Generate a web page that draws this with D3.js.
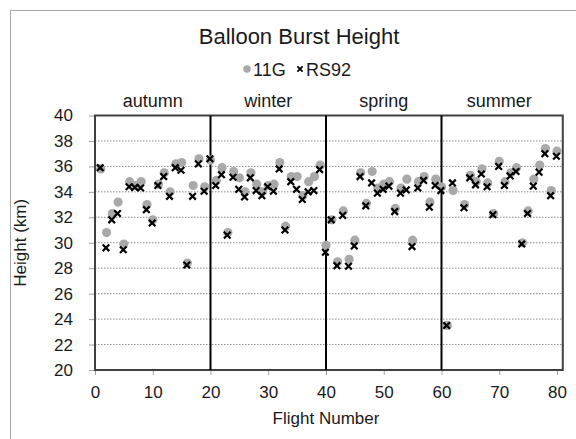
<!DOCTYPE html>
<html>
<head>
<meta charset="utf-8">
<script src="https://cdn.jsdelivr.net/npm/d3@7"></script>
<style>
  html, body { margin: 0; padding: 0; background: #fff; }
  svg { display: block; font-family: "Liberation Sans", Arial, sans-serif; }
</style>
</head>
<body>
<div id="chart"></div>
<script>
// Balloon burst heights per flight, two radiosonde types.
const flights = d3.range(1, 81);
const g11 = [35.8, 30.8, 32.3, 33.2, 29.9, 34.8, 34.5, 34.8, 33.0, 31.8, 34.6, 35.5, 34.0, 36.2, 36.3, 28.4, 34.5, 36.6, 34.4, 36.5,
  34.9, 35.9, 30.8, 35.6, 35.1, 34.0, 35.5, 34.6, 34.0, 34.5, 34.6, 36.3, 31.3, 35.2, 35.2, 33.7, 34.8, 35.2, 36.1, 29.8,
  31.8, 28.5, 32.5, 28.7, 30.2, 35.5, 33.1, 35.6, 34.3, 34.6, 34.8, 32.7, 34.3, 35.0, 30.2, 34.8, 35.2, 33.2, 35.0, 34.4,
  23.5, 34.1, null, 33.0, 35.3, 34.8, 35.8, 34.7, 32.3, 36.4, 34.8, 35.5, 35.9, 30.0, 32.5, 35.0, 36.1, 37.4, 34.1, 37.2];
const rs92 = [35.9, 29.6, 31.8, 32.3, 29.45, 34.4, 34.35, 34.3, 32.6, 31.55, 34.5, 35.2, 33.65, 35.9, 35.7, 28.25, 33.65, 36.2, 34.05, 36.6,
  34.5, 35.35, 30.6, 35.15, 34.2, 33.6, 35.1, 34.1, 33.7, 34.4, 34.05, 35.8, 31.0, 34.8, 34.2, 33.4, 34.0, 34.1, 35.75, 29.25,
  31.8, 28.2, 32.15, 28.15, 29.75, 35.2, 32.9, 34.7, 33.9, 34.2, 34.45, 32.45, 33.9, 34.15, 29.7, 34.3, 34.9, 32.8, 34.5, 34.1,
  23.5, 34.7, null, 32.75, 35.1, 34.55, 35.4, 34.4, 32.2, 36.0, 34.5, 35.25, 35.6, 29.9, 32.3, 34.45, 35.55, 37.0, 33.7, 36.8];

const seasons = ["autumn", "winter", "spring", "summer"];
const seasonBreaks = [0, 20, 40, 60, 80];
const xTicks = [0, 10, 20, 30, 40, 50, 60, 70, 80];
const yTicks = d3.range(20, 41, 2);

const w = 576, h = 439;
const margin = { top: 115.5, right: 13.5, bottom: 69, left: 95 };
const textColor = "#1a1a1a";

const svg = d3.select("#chart").append("svg")
  .attr("width", w)
  .attr("height", h);

// outer chart border (only left/top visible in the frame)
svg.append("rect")
  .attr("x", 10.5).attr("y", 10.5)
  .attr("width", w + 20).attr("height", h + 20)
  .attr("fill", "none")
  .attr("stroke", "#a6a6a6");

const x = d3.scaleLinear()
  .domain([0, 81])
  .range([margin.left, margin.left + 5.775 * 81]);
const y = d3.scaleLinear()
  .domain([20, 40])
  .range([h - margin.bottom, margin.top]);

const x0 = x(0), x1 = x(81), yb = y(20), yt = y(40);

// dotted grid
svg.append("g")
  .selectAll("line")
  .data(yTicks.filter((t) => t > 20 && t < 40))
  .join("line")
  .attr("x1", x0).attr("x2", x1)
  .attr("y1", (d) => y(d)).attr("y2", (d) => y(d))
  .attr("stroke", "#8c8c8c")
  .attr("stroke-width", 1)
  .attr("stroke-dasharray", "1.5,1.5");

// axes: tick marks + labels
const yAxis = svg.append("g")
  .attr("transform", `translate(${x0},0)`)
  .call(d3.axisLeft(y).tickValues(yTicks).tickSize(6).tickPadding(16).tickSizeOuter(0));
const xAxis = svg.append("g")
  .attr("transform", `translate(0,${yb})`)
  .call(d3.axisBottom(x).tickValues(xTicks).tickSize(5).tickPadding(11).tickSizeOuter(0));

for (const ax of [yAxis, xAxis]) {
  ax.select(".domain").remove();
  ax.selectAll(".tick line").attr("stroke", "#a0a0a0");
  ax.selectAll(".tick text")
    .style("font-size", "17px")
    .attr("fill", textColor);
}

// plot frame
svg.append("rect")
  .attr("x", x0).attr("y", yt)
  .attr("width", x1 - x0).attr("height", yb - yt)
  .attr("fill", "none")
  .attr("stroke", "#404040")
  .attr("stroke-width", 2);

// season dividers
svg.append("g")
  .selectAll("line")
  .data(seasonBreaks.slice(1, -1))
  .join("line")
  .attr("x1", (d) => x(d)).attr("x2", (d) => x(d))
  .attr("y1", yt).attr("y2", yb)
  .attr("stroke", "#000")
  .attr("stroke-width", 2);

// season labels
svg.append("g")
  .selectAll("text")
  .data(seasons)
  .join("text")
  .attr("x", (d, i) => x((seasonBreaks[i] + seasonBreaks[i + 1]) / 2))
  .attr("y", 107)
  .attr("text-anchor", "middle")
  .style("font-size", "18px")
  .attr("fill", textColor)
  .text((d) => d);

const pts11 = flights.map((f, i) => ({ f, v: g11[i] })).filter((d) => d.v != null);
const ptsRS = flights.map((f, i) => ({ f, v: rs92[i] })).filter((d) => d.v != null);

const grey = "#a9a9a9";
svg.append("g")
  .selectAll("circle")
  .data(pts11)
  .join("circle")
  .attr("cx", (d) => x(d.f))
  .attr("cy", (d) => y(d.v))
  .attr("r", 4.6)
  .attr("fill", grey);

const s = 3.3;
const crossPath = `M${-s},${-s}L${s},${s}M${-s},${s}L${s},${-s}`;
svg.append("g")
  .selectAll("path")
  .data(ptsRS)
  .join("path")
  .attr("transform", (d) => `translate(${x(d.f) - 0.6},${y(d.v)})`)
  .attr("d", crossPath)
  .attr("stroke", "#000")
  .attr("stroke-width", 2.2)
  .attr("fill", "none");

// title
svg.append("text")
  .attr("x", 299)
  .attr("y", 44)
  .attr("text-anchor", "middle")
  .style("font-size", "22px")
  .attr("fill", textColor)
  .text("Balloon Burst Height");

// legend
const leg = svg.append("g").attr("transform", "translate(0,69)");
leg.append("circle").attr("cx", 247).attr("cy", 0).attr("r", 3.8).attr("fill", grey);
leg.append("text").attr("x", 253).attr("y", 6.5).style("font-size", "18px").attr("fill", textColor).text("11G");
leg.append("path")
  .attr("transform", "translate(300,0)")
  .attr("d", "M-2.6,-2.6L2.6,2.6M-2.6,2.6L2.6,-2.6")
  .attr("stroke", "#000").attr("stroke-width", 1.8);
leg.append("text").attr("x", 306).attr("y", 6.5).style("font-size", "18px").attr("fill", textColor).text("RS92");

// axis titles
svg.append("text")
  .attr("x", (x0 + x(80)) / 2)
  .attr("y", 424)
  .attr("text-anchor", "middle")
  .style("font-size", "17px")
  .attr("fill", textColor)
  .text("Flight Number");

svg.append("text")
  .attr("transform", `translate(26,${(yt + yb) / 2}) rotate(-90)`)
  .attr("text-anchor", "middle")
  .style("font-size", "17px")
  .attr("fill", textColor)
  .text("Height (km)");
</script>
</body>
</html>
